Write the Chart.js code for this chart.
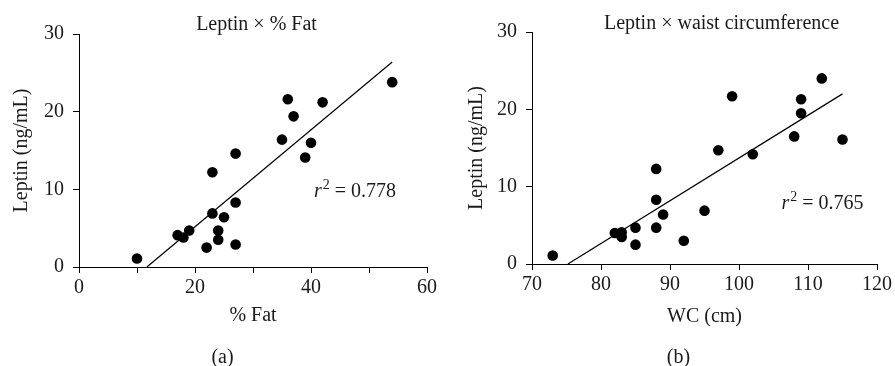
<!DOCTYPE html>
<html><head><meta charset="utf-8">
<script src="https://cdn.jsdelivr.net/npm/chart.js@4/dist/chart.umd.min.js"></script>
<style>
body{margin:0;background:#fff}
#wrap{position:relative;width:895px;height:366px;background:#fff}
canvas{position:absolute;top:0}
</style>
</head><body>
<div id="wrap">
<canvas id="ca" width="447" height="366" style="left:0"></canvas>
<canvas id="cb" width="448" height="366" style="left:447px"></canvas>
</div>
<script>
// Panel (a): Leptin x % Fat
const fatX = [10,17,18,19,22,23,23,24,24,25,27,27,27,35,36,37,39,40,42,54];
const fatY = [1.1,4.1,3.8,4.7,2.5,12.2,6.9,4.7,3.5,6.4,14.6,8.3,2.9,16.4,21.6,19.4,14.1,16.0,21.2,23.8];
const fatFitX = [11.7,54];
const fatFitY = [0,26.4];
// Panel (b): Leptin x waist circumference
const wcX = [73,82,83,83,85,85,88,88,88,89,92,95,97,99,102,108,109,109,112,115];
const wcY = [1.1,4.0,4.1,3.5,4.7,2.5,12.3,8.3,4.7,6.4,3.0,6.9,14.7,21.7,14.2,16.5,21.3,19.5,24.0,16.1];
const wcFitX = [75.2,115];
const wcFitY = [0,22.0];
// tick values
const fatTicks = [0,20,40,60];
const wcTicks = [70,80,90,100,110,120];
const leptinTicks = [0,10,20,30];

const FONT = "'Liberation Serif','Times New Roman',serif";
const TXT = '#1a1a1a';

const annot = {
  id:'annot',
  afterDraw(chart, args, o){
    const ctx = chart.ctx;
    ctx.save();
    ctx.fillStyle = TXT;
    ctx.textBaseline = 'alphabetic';
    ctx.font = '20px ' + FONT;
    ctx.textAlign = 'center';
    ctx.fillText(o.title, o.titleX, o.titleY);
    ctx.fillText(o.cap, o.capX, o.capY);
    // r^2 annotation
    ctx.textAlign = 'left';
    let x = o.r2X;
    ctx.font = 'italic 20px ' + FONT;
    ctx.fillText('r', x, o.r2Y);
    x += ctx.measureText('r').width + 1;
    ctx.font = '14px ' + FONT;
    ctx.fillText('2', x, o.r2Y - 8);
    x += ctx.measureText('2').width;
    ctx.font = '20px ' + FONT;
    ctx.fillText(' = ' + o.r2, x, o.r2Y);
    ctx.restore();
  }
};

function pts(xs, ys){ return xs.map((v,i)=>({x:v, y:ys[i]})); }

function make(id, o){
  return new Chart(document.getElementById(id), {
    type:'scatter',
    data:{datasets:[
      {data:pts(o.xs,o.ys), backgroundColor:'#000', borderColor:'#000', pointRadius:5.3, pointBorderWidth:0, clip:false},
      {data:pts(o.fx,o.fy), showLine:true, pointRadius:0, borderColor:'#000', borderWidth:1.2, fill:false, clip:false}
    ]},
    options:{
      responsive:false, animation:false, devicePixelRatio:1,
      layout:{padding:{top:o.padTop, right:o.padRight, bottom:0, left:0}},
      plugins:{legend:{display:false}, tooltip:{enabled:false}, annot:o.annot},
      scales:{
        x:{type:'linear', min:o.xmin, max:o.xmax,
          afterFit:s=>{s.height=o.xh;},
          border:{display:true, color:'#000', width:1},
          grid:{drawOnChartArea:false, drawTicks:true, tickLength:6, color:'#000', lineWidth:1},
          ticks:{stepSize:10, autoSkip:false, maxRotation:0, color:TXT, padding:3,
            font:{family:FONT, size:20},
            callback:v=> o.xticks.includes(v) ? String(v) : ''},
          title:{display:true, text:o.xtitle, color:TXT, font:{family:FONT, size:20}, padding:{top:0,bottom:o.xtPad}}
        },
        y:{type:'linear', min:0, max:30,
          afterFit:s=>{s.width=o.yw;},
          border:{display:true, color:'#000', width:1},
          grid:{drawOnChartArea:false, drawTicks:true, tickLength:6, color:'#000', lineWidth:1},
          ticks:{stepSize:10, autoSkip:false, color:TXT, padding:9,
            font:{family:FONT, size:20},
            callback:v=> leptinTicks.includes(v) ? String(v) : ''},
          title:{display:true, text:'Leptin (ng/mL)', color:TXT, font:{family:FONT, size:20}, padding:{top:o.ytPad,bottom:0}}
        }
      }
    },
    plugins:[annot]
  });
}

make('ca', {xs:fatX, ys:fatY, fx:fatFitX, fy:fatFitY, xmin:0, xmax:60, xticks:fatTicks,
  xtitle:'% Fat', padTop:34, padRight:20, xh:99, yw:79, xtPad:38, ytPad:10,
  annot:{title:'Leptin × % Fat', titleX:256.5, titleY:30, cap:'(a)', capX:222.5, capY:363,
    r2:'0.778', r2X:314, r2Y:197}});
make('cb', {xs:wcX, ys:wcY, fx:wcFitX, fy:wcFitY, xmin:70, xmax:120, xticks:wcTicks,
  xtitle:'WC (cm)', padTop:32, padRight:14, xh:102, yw:85, xtPad:37, ytPad:18,
  annot:{title:'Leptin × waist circumference', titleX:274.5, titleY:29, cap:'(b)', capX:231.5, capY:363,
    r2:'0.765', r2X:334.5, r2Y:209}});
</script>
</body></html>
